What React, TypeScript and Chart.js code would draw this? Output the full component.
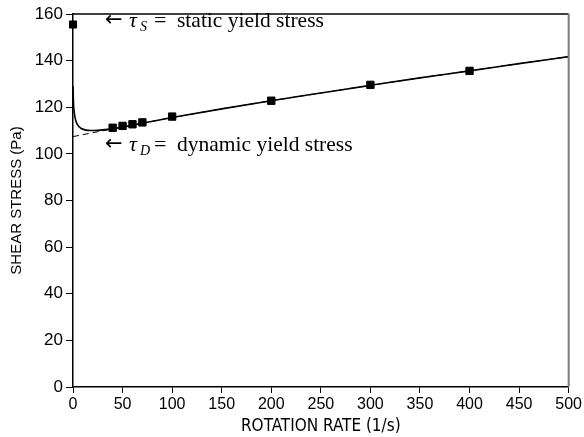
import React, { useEffect, useRef } from "react";
import { Chart, registerables } from "chart.js";

Chart.register(...registerables);

// Measured points (rotation rate 1/s, shear stress Pa)
const measuredRate = [40, 50, 60, 70, 100, 200, 300, 400];
const measuredStress = [111.2, 112.0, 112.7, 113.5, 116.0, 122.8, 129.6, 135.6];

// Static yield stress point
const staticRate = [0];
const staticStress = [155.5];

// Dashed fit line (extrapolated to zero rate -> dynamic yield stress)
const fitRate = [0, 25, 50, 100, 150, 200, 250, 300, 350, 400, 450, 500];
const fitStress = [107.4, 109.5, 111.5, 115.6, 119.3, 122.8, 126.1, 129.4, 132.6, 135.6, 138.7, 141.7];

// Solid measured flow curve at low rates (then follows the fit)
const curveRate = [0, 0.6, 1.5, 3, 5, 8, 12, 18, 25, 35, 45];
const curveStress = [129, 121, 117, 114, 112.2, 111, 110.3, 110.0, 110.1, 110.5, 111.1];

// Axis ticks
const xTicks = [0, 50, 100, 150, 200, 250, 300, 350, 400, 450, 500];
const yTicks = [0, 20, 40, 60, 80, 100, 120, 140, 160];

const xTitle = "ROTATION RATE (1/s)";
const yTitle = "SHEAR STRESS (Pa)";

const annotations = [
  { sub: "S", text: "static yield stress", dy: 13 },
  { sub: "D", text: "dynamic yield stress", dy: 136.5 },
];

const toPts = (xs: number[], ys: number[]) => xs.map((x, i) => ({ x, y: ys[i] }));

const framePlugin = {
  id: "frame",
  afterDatasetsDraw(chart: any) {
    const { ctx, chartArea } = chart;
    const { left, right, top, bottom } = chartArea;
    ctx.save();
    ctx.strokeStyle = "#000";
    ctx.lineWidth = 1.5;
    ctx.beginPath();
    ctx.moveTo(left, top);
    ctx.lineTo(right, top);
    ctx.stroke();
    ctx.strokeStyle = "#7a7a7a";
    ctx.lineWidth = 2;
    ctx.beginPath();
    ctx.moveTo(right, top);
    ctx.lineTo(right, bottom);
    ctx.stroke();
    ctx.restore();
  },
  afterDraw(chart: any) {
    const { ctx, chartArea } = chart;
    const top = chartArea.top;
    ctx.save();
    ctx.fillStyle = "#000";
    ctx.textBaseline = "alphabetic";
    ctx.textAlign = "left";
    annotations.forEach((a) => {
      const y = top + a.dy;
      const x0 = chartArea.left + 32;
      ctx.font = '21px "DejaVu Sans"';
      ctx.fillText("\u2190", x0, y - 1);
      ctx.font = 'italic 22px "Liberation Serif"';
      ctx.fillText("\u03C4", x0 + 24, y);
      ctx.font = 'italic 14px "Liberation Serif"';
      ctx.fillText(a.sub, x0 + 35, y + 4);
      ctx.font = '22px "Liberation Serif"';
      ctx.fillText("=", x0 + 49, y);
      ctx.font = '21.5px "Liberation Serif"';
      ctx.fillText(a.text, x0 + 72, y);
    });
    ctx.restore();
  },
};

export default function App() {
  const canvasRef = useRef<HTMLCanvasElement | null>(null);

  useEffect(() => {
    document.body.style.margin = "0";
    const canvas = canvasRef.current;
    if (!canvas) return;
    const xTickFont = { family: '"Liberation Sans", Arial, sans-serif', size: 16 };
    const yTickFont = { family: '"Liberation Sans", Arial, sans-serif', size: 17 };
    const chart = new Chart(canvas, {
      type: "scatter",
      data: {
        datasets: [
          {
            label: "fit",
            data: toPts(fitRate, fitStress),
            showLine: true,
            borderColor: "#000",
            borderWidth: 1,
            borderDash: [6, 4],
            pointRadius: 0,
            order: 3,
          },
          {
            label: "curve",
            data: toPts(
              curveRate.concat(fitRate.filter((r) => r >= 50)),
              curveStress.concat(fitStress.filter((_, i) => fitRate[i] >= 50))
            ),
            showLine: true,
            borderColor: "#000",
            borderWidth: 1.6,
            pointRadius: 0,
            cubicInterpolationMode: "monotone",
            order: 2,
          },
          {
            label: "measured",
            data: toPts(measuredRate, measuredStress),
            showLine: false,
            pointStyle: "rect",
            pointRadius: 5.2,
            backgroundColor: "#000",
            borderColor: "#000",
            borderWidth: 1,
            order: 1,
          },
          {
            label: "static",
            data: toPts(staticRate, staticStress),
            showLine: false,
            pointStyle: "rect",
            pointRadius: 5,
            backgroundColor: "#000",
            borderColor: "#000",
            borderWidth: 1,
            clip: false as any,
            order: 0,
          },
        ],
      },
      options: {
        animation: false,
        responsive: true,
        maintainAspectRatio: false,
        layout: { padding: { left: 0, right: 15, top: 14, bottom: 0 } },
        plugins: {
          legend: { display: false },
          tooltip: { enabled: false },
        },
        scales: {
          x: {
            type: "linear",
            min: 0,
            max: 500,
            afterBuildTicks: (s: any) => {
              s.ticks = xTicks.map((v) => ({ value: v }));
            },
            afterFit: (s: any) => {
              s.height = 50;
            },
            ticks: { font: xTickFont, color: "#000", padding: 2, maxRotation: 0, autoSkip: false },
            grid: { display: true, drawOnChartArea: false, drawTicks: true, tickLength: 6, color: "#000", lineWidth: 1 },
            border: { display: true, color: "#000", width: 1.5 },
            title: {
              display: true,
              text: xTitle,
              color: "#000",
              font: { family: '"DejaVu Sans Condensed", "Liberation Sans Narrow", sans-serif', size: 17 },
              padding: { top: 8, bottom: 0 },
            },
          },
          y: {
            type: "linear",
            min: 0,
            max: 160,
            afterBuildTicks: (s: any) => {
              s.ticks = yTicks.map((v) => ({ value: v }));
            },
            afterFit: (s: any) => {
              s.width = 73;
            },
            ticks: { font: yTickFont, color: "#000", padding: 3, autoSkip: false },
            grid: { display: true, drawOnChartArea: false, drawTicks: true, tickLength: 7, color: "#000", lineWidth: 1 },
            border: { display: true, color: "#000", width: 1.5 },
            title: {
              display: true,
              text: yTitle,
              color: "#000",
              font: { family: '"Liberation Sans", Arial, sans-serif', size: 15 },
              padding: { top: 8, bottom: 0 },
            },
          },
        },
      },
      plugins: [framePlugin],
    } as any);
    return () => chart.destroy();
  }, []);

  return (
    <div style={{ position: "fixed", left: 0, top: 0, width: 584, height: 437, background: "#fff" }}>
      <canvas ref={canvasRef} />
    </div>
  );
}
